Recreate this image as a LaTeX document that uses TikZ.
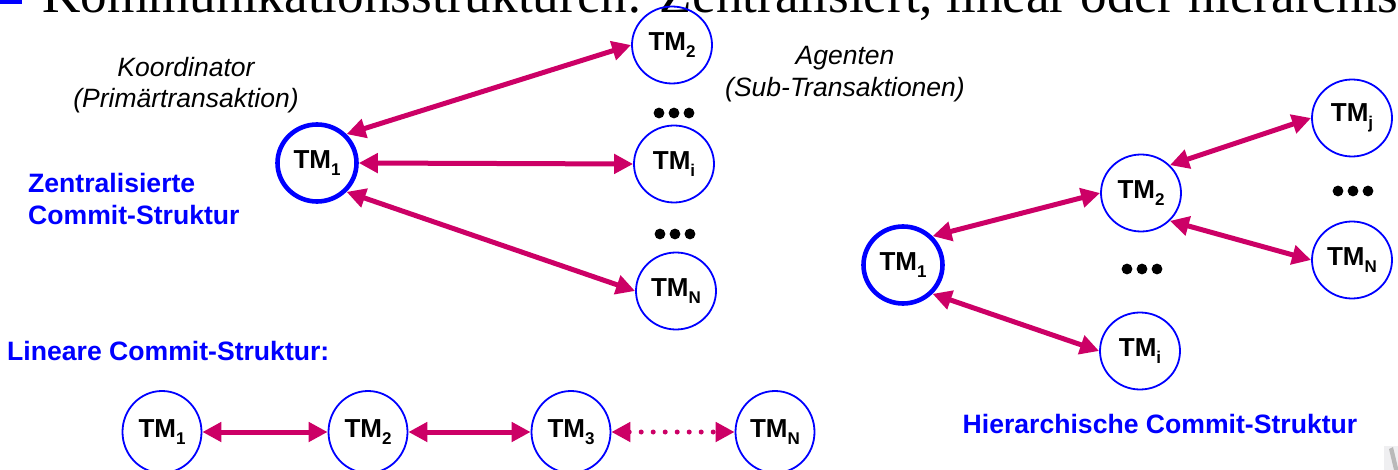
\documentclass[tikz,border=0pt]{standalone}
\usepackage{graphicx}
\usepackage{fontspec}
\setmainfont{Liberation Serif}
\newfontfamily\arial{Liberation Sans}
\usetikzlibrary{shapes.geometric,arrows.meta}

\definecolor{linkred}{RGB}{204,0,102}
\definecolor{nodeblue}{RGB}{0,0,255}

% transaction manager label: "TM" with a lowered index
\newcommand\tmlab[1]{TM\raisebox{-6.5pt}{\fontsize{17}{17}\selectfont #1}}

\tikzset{
  tm/.style={ellipse, draw=nodeblue, line width=1.8pt, minimum width=80pt,
    minimum height=77pt, inner sep=0pt,
    font=\arial\bfseries\fontsize{26}{26}\selectfont},
  tmhub/.style={tm, line width=4.6pt, minimum width=79pt, minimum height=77pt},
  tmlin/.style={tm, minimum width=79pt, minimum height=82pt},
  link/.style={draw=linkred, line width=5pt,
    arrows={Triangle[length=19pt,width=19pt]-Triangle[length=19pt,width=19pt]}},
  dottedlink/.style={link, line cap=round, dash pattern=on 0pt off 12pt},
  remark/.style={inner sep=0pt, font=\arial\itshape\fontsize{26.5}{26.5}\selectfont},
  heading/.style={inner sep=0pt, text=nodeblue,
    font=\arial\bfseries\fontsize{26.6}{26.6}\selectfont},
  ellipsis/.pic={\fill (-15,0) circle (5.4pt) (0,0) circle (5.4pt) (15,0) circle (5.4pt);}
}

\begin{document}
\begin{tikzpicture}[x=1pt, y=-1pt]
\useasboundingbox (0,0) rectangle (1398,470);
\clip (0,0) rectangle (1398,470);

% slide heading, cut off at the top edge
\fill[nodeblue] (0,-10) rectangle (22,4.5);
\node[anchor=base west, inner sep=0pt, font=\fontsize{53.2}{53.2}\selectfont] (title) at (42,12.5)
  {Kommunikationsstrukturen: Zentralisiert, linear oder hierarchisch};

% ---------- centralised commit structure ----------
\node[tmhub] (c1) at (317,163) {\tmlab{1}};
\node[tm] (c2) at (672,45)  {\tmlab{2}};
\node[tm] (ci) at (674,164) {\tmlab{i}};
\node[tm] (cn) at (676,291) {\tmlab{N}};
\pic at (674,113) {ellipsis};
\pic at (675,234) {ellipsis};

\draw[link] (c1.north east) -- (c2.west);
\draw[link] (c1.east) -- (ci.west);
\draw[link] (c1.south east) -- (cn.west);

\node[remark, anchor=base] (koord) at (186,77) {Koordinator};
\node[remark, anchor=base] (prim) at (186,108) {(Primärtransaktion)};
\node[remark, anchor=base] (agent) at (845,65) {Agenten};
\node[remark, anchor=base] (sub) at (845,97) {(Sub-Transaktionen)};

\node[heading, anchor=base west] (zen1) at (28,193) {Zentralisierte};
\node[heading, anchor=base west] (zen2) at (28,225) {Commit-Struktur};

% ---------- linear commit structure ----------
\node[heading, anchor=base west] (lin) at (7,361) {Lineare Commit-Struktur:};
\node[tmlin] (l1) at (162,432) {\tmlab{1}};
\node[tmlin] (l2) at (368,432) {\tmlab{2}};
\node[tmlin] (l3) at (571,432) {\tmlab{3}};
\node[tmlin] (ln) at (775,432) {\tmlab{N}};
\draw[link] (l1.east) -- (l2.west);
\draw[link] (l2.east) -- (l3.west);
\draw[dottedlink] (l3.east) -- (ln.west);

% ---------- hierarchical commit structure ----------
\node[tmhub] (h1) at (903,265) {\tmlab{1}};
\node[tm] (h2) at (1141,193) {\tmlab{2}};
\node[tm] (hi) at (1140,351) {\tmlab{i}};
\node[tm] (hj) at (1352,118) {\tmlab{j}};
\node[tm] (hn) at (1352,260) {\tmlab{N}};
\pic at (1142,269) {ellipsis};
\pic at (1353,191) {ellipsis};

\draw[link] (h1.north east) -- (h2.west);
\draw[link] (h1.south east) -- (hi.west);
\draw[link] (h2.north east) -- (hj.west);
\draw[link] (h2.south east) -- (hn.west);

\node[heading, anchor=base] (hier) at (1160,433) {Hierarchische Commit-Struktur};

% corner of a logo at the lower right edge
\fill[blue!6!gray!12] (1384,446) rectangle (1398,470);
\fill[gray!55] (1389,449) -- (1393,447) -- (1398,468) -- (1398,470) -- (1394,470) -- cycle;
\end{tikzpicture}
\end{document}
